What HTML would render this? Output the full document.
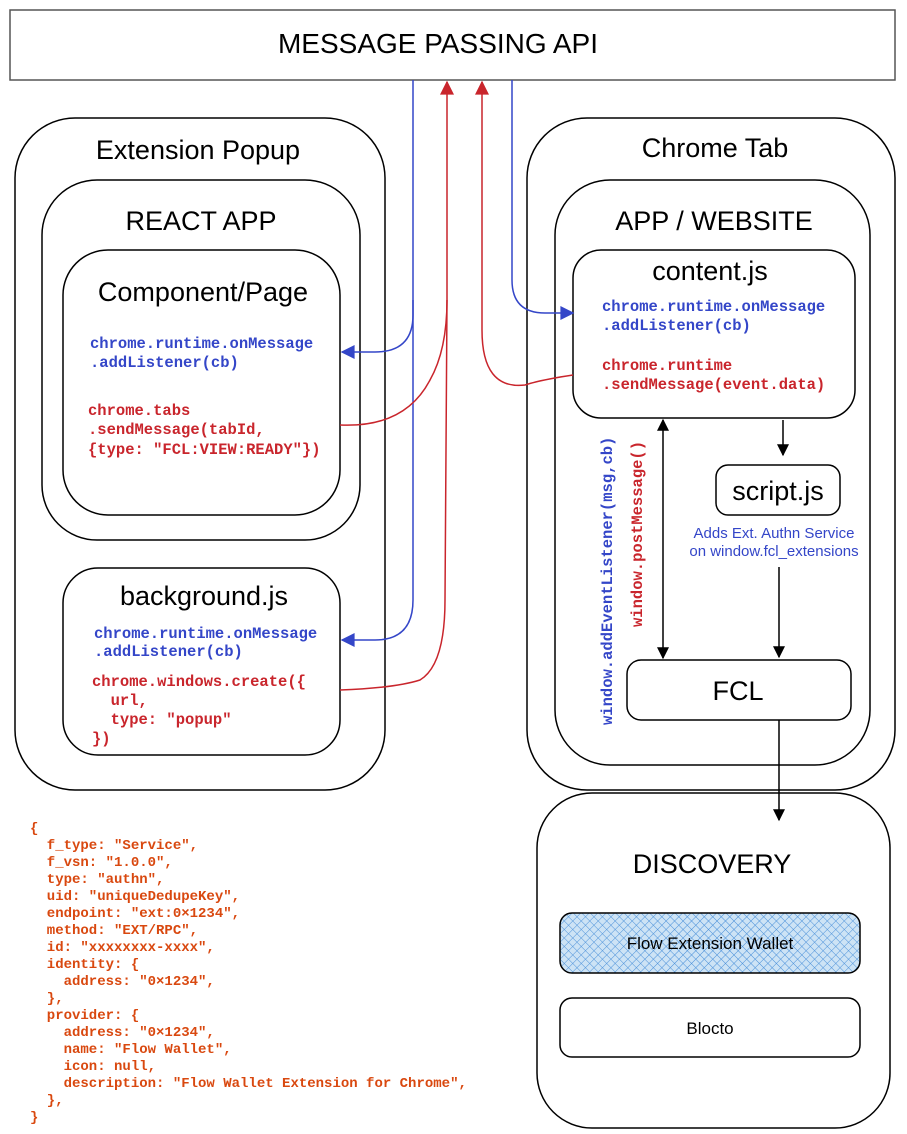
<!DOCTYPE html>
<html><head><meta charset="utf-8"><style>
html,body{margin:0;padding:0;background:#fff;}
svg{display:block;}
.t{font-family:"Liberation Sans",sans-serif;fill:#000;}
.m{font-family:"Liberation Mono",monospace;font-weight:bold;white-space:pre;}
.m text{white-space:pre;}
.b{fill:#3446c8;}
.r{fill:#c9252c;}
.o text{fill:#d9480f;font-size:14px;}
</style></head><body>
<svg width="907" height="1134" viewBox="0 0 907 1134" xmlns="http://www.w3.org/2000/svg">
<defs>
<marker id="abl" viewBox="0 0 10 10" refX="9" refY="5" markerWidth="16" markerHeight="14" markerUnits="userSpaceOnUse" orient="auto"><path d="M0,0 L10,5 L0,10 z" fill="#3446c8"/></marker>
<marker id="ar" viewBox="0 0 10 10" refX="9" refY="5" markerWidth="16" markerHeight="14" markerUnits="userSpaceOnUse" orient="auto"><path d="M0,0 L10,5 L0,10 z" fill="#c9252c"/></marker>
<marker id="ak" viewBox="0 0 10 10" refX="9" refY="5" markerWidth="14" markerHeight="12" markerUnits="userSpaceOnUse" orient="auto-start-reverse"><path d="M0,0 L10,5 L0,10 z" fill="#000"/></marker>
<pattern id="hatch" width="6" height="6" patternUnits="userSpaceOnUse" patternTransform="rotate(45)"><rect width="6" height="6" fill="#cde3f5"/><line x1="0" y1="0" x2="0" y2="6" stroke="#4a90d9" stroke-width="1"/><line x1="0" y1="0" x2="6" y2="0" stroke="#4a90d9" stroke-width="1"/></pattern>
</defs>
<g fill="none" stroke="#000" stroke-width="1.5">
<rect x="10" y="10" width="885" height="70" stroke="#555"/>
<rect x="15" y="118" width="370" height="672" rx="60"/>
<rect x="42" y="180" width="318" height="360" rx="55"/>
<rect x="63" y="250" width="277" height="265" rx="45"/>
<rect x="63" y="568" width="277" height="187" rx="35"/>
<rect x="527" y="118" width="368" height="672" rx="60"/>
<rect x="555" y="180" width="315" height="585" rx="55"/>
<rect x="573" y="250" width="282" height="168" rx="28"/>
<rect x="716" y="465" width="124" height="50" rx="12"/>
<rect x="627" y="660" width="224" height="60" rx="14"/>
<rect x="537" y="793" width="353" height="335" rx="55"/>
<rect x="560" y="913" width="300" height="60" rx="12" fill="url(#hatch)"/>
<rect x="560" y="998" width="300" height="59" rx="12"/>
</g>
<g fill="none" stroke-width="1.5">
<path d="M413,80 L413,315 Q413,352 375,352 L342,352" stroke="#3446c8" marker-end="url(#abl)"/>
<path d="M413,300 L413,600 Q413,640 375,640 L342,640" stroke="#3446c8" marker-end="url(#abl)"/>
<path d="M512,80 L512,280 Q512,313 545,313 L573,313" stroke="#3446c8" marker-end="url(#abl)"/>
<path d="M340,425 Q405,428 430,380 Q447,350 447,300 L447,82" stroke="#c9252c" marker-end="url(#ar)"/>
<path d="M340,690 Q395,688 420,680 Q445,665 445,600 L447,300" stroke="#c9252c"/>
<path d="M573,375 Q540,380 525,385 Q482,390 482,330 L482,82" stroke="#c9252c" marker-end="url(#ar)"/>
<path d="M663,420 L663,658" stroke="#000" marker-start="url(#ak)" marker-end="url(#ak)"/>
<path d="M783,420 L783,455" stroke="#000" marker-end="url(#ak)"/>
<path d="M779,567 L779,657" stroke="#000" marker-end="url(#ak)"/>
<path d="M779,720 L779,820" stroke="#000" marker-end="url(#ak)"/>
</g>
<text class="t" x="438" y="53" font-size="28" text-anchor="middle">MESSAGE PASSING API</text>
<text class="t" x="198" y="159" font-size="27" text-anchor="middle">Extension Popup</text>
<text class="t" x="201" y="230" font-size="27" text-anchor="middle">REACT APP</text>
<text class="t" x="203" y="301" font-size="27" text-anchor="middle">Component/Page</text>
<text class="t" x="204" y="605" font-size="27" text-anchor="middle">background.js</text>
<text class="t" x="715" y="157" font-size="27" text-anchor="middle">Chrome Tab</text>
<text class="t" x="714" y="230" font-size="27" text-anchor="middle">APP / WEBSITE</text>
<text class="t" x="710" y="280" font-size="27" text-anchor="middle">content.js</text>
<text class="t" x="778" y="500" font-size="27" text-anchor="middle">script.js</text>
<text class="t" x="738" y="700" font-size="27" text-anchor="middle">FCL</text>
<text class="t" x="712" y="873" font-size="27" text-anchor="middle">DISCOVERY</text>
<text class="t" x="710" y="949" font-size="17" text-anchor="middle">Flow Extension Wallet</text>
<text class="t" x="710" y="1034" font-size="17" text-anchor="middle">Blocto</text>
<text class="t" x="774" y="538" font-size="15" text-anchor="middle" style="fill:#3446c8">Adds Ext. Authn Service</text>
<text class="t" x="774" y="556" font-size="15" text-anchor="middle" style="fill:#3446c8">on window.fcl_extensions</text>
<g class="m" font-size="15.5">
<text class="b" x="90" y="348">chrome.runtime.onMessage</text>
<text class="b" x="90" y="367">.addListener(cb)</text>
<text class="r" x="88" y="415">chrome.tabs</text>
<text class="r" x="88" y="434">.sendMessage(tabId,</text>
<text class="r" x="88" y="454">{type: "FCL:VIEW:READY"})</text>
<text class="b" x="94" y="638">chrome.runtime.onMessage</text>
<text class="b" x="94" y="656">.addListener(cb)</text>
<text class="r" x="92" y="686">chrome.windows.create({</text>
<text class="r" x="92" y="705">  url,</text>
<text class="r" x="92" y="724">  type: "popup"</text>
<text class="r" x="92" y="743">})</text>
<text class="b" x="602" y="311">chrome.runtime.onMessage</text>
<text class="b" x="602" y="330">.addListener(cb)</text>
<text class="r" x="602" y="370">chrome.runtime</text>
<text class="r" x="602" y="389">.sendMessage(event.data)</text>
<text class="b" x="612" y="725" transform="rotate(-90 612 725)">window.addEventListener(msg,cb)</text>
<text class="r" x="642" y="627" transform="rotate(-90 642 627)">window.postMessage()</text>
</g>
<g class="m o">
<text x="30" y="832">{</text>
<text x="30" y="849">  f_type: "Service",</text>
<text x="30" y="866">  f_vsn: "1.0.0",</text>
<text x="30" y="883">  type: "authn",</text>
<text x="30" y="900">  uid: "uniqueDedupeKey",</text>
<text x="30" y="917">  endpoint: "ext:0×1234",</text>
<text x="30" y="934">  method: "EXT/RPC",</text>
<text x="30" y="951">  id: "xxxxxxxx-xxxx",</text>
<text x="30" y="968">  identity: {</text>
<text x="30" y="985">    address: "0×1234",</text>
<text x="30" y="1002">  },</text>
<text x="30" y="1019">  provider: {</text>
<text x="30" y="1036">    address: "0×1234",</text>
<text x="30" y="1053">    name: "Flow Wallet",</text>
<text x="30" y="1070">    icon: null,</text>
<text x="30" y="1087">    description: "Flow Wallet Extension for Chrome",</text>
<text x="30" y="1104">  },</text>
<text x="30" y="1121">}</text>
</g>
</svg>
</body></html>
